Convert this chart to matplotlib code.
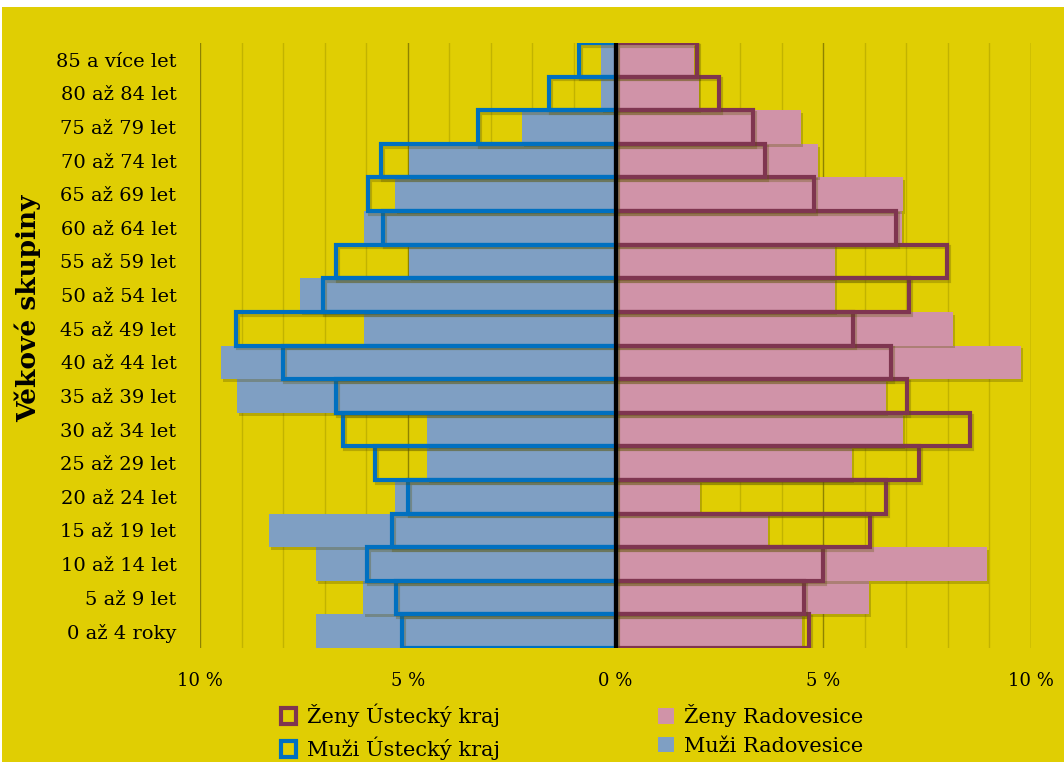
import matplotlib
matplotlib.use("Agg")
import matplotlib.pyplot as plt
import matplotlib.patheffects as pe
from matplotlib.patches import Patch, Rectangle
import numpy as np

plt.rcParams['font.family'] = ['DejaVu Serif']

# Data (young -> old)
groups = ["0 až 4 roky", "5 až 9 let", "10 až 14 let", "15 až 19 let", "20 až 24 let",
          "25 až 29 let", "30 až 34 let", "35 až 39 let", "40 až 44 let", "45 až 49 let",
          "50 až 54 let", "55 až 59 let", "60 až 64 let", "65 až 69 let", "70 až 74 let",
          "75 až 79 let", "80 až 84 let", "85 a více let"]
zeny_radovesice = [4.5, 6.1, 8.94, 3.68, 2.04, 5.7, 6.92, 6.51, 9.76, 8.13, 5.29, 5.29, 6.9, 6.92, 4.88, 4.47, 2.0, 1.9]
zeny_ustecky = [4.66, 4.54, 5.0, 6.13, 6.51, 7.31, 8.53, 7.02, 6.63, 5.72, 7.07, 7.98, 6.75, 4.78, 3.6, 3.3, 2.5, 1.97]
muzi_radovesice = [7.21, 6.08, 7.21, 8.34, 5.31, 4.54, 4.54, 9.11, 9.5, 6.06, 7.6, 4.98, 6.06, 5.31, 4.98, 2.26, 0.36, 0.36]
muzi_ustecky = [5.14, 5.29, 5.99, 5.39, 5.0, 5.79, 6.56, 6.73, 8.0, 9.13, 7.04, 6.73, 5.6, 5.96, 5.65, 3.3, 1.6, 0.89]
xticks = [-10, -5, 0, 5, 10]
xtick_labels = ["10 %", "5 %", "0 %", "5 %", "10 %"]

BG = "#E0CE03"
PINK = "#D093A8"
GREYBLUE = "#7F9FC3"
MAROON = "#7F3550"
BLUE = "#0070C0"

fig = plt.figure(figsize=(10.64, 7.62), dpi=100, facecolor=BG)
fig.patches.append(Rectangle((0, 1 - 7 / 762), 1, 7 / 762, transform=fig.transFigure,
                             facecolor="white", edgecolor="none", zorder=0))
fig.patches.append(Rectangle((0, 0), 2 / 1064, 1, transform=fig.transFigure,
                             facecolor="white", edgecolor="none", zorder=0))

ax = fig.add_axes([200 / 1064, 1 - 648 / 762, (1031 - 200) / 1064, (648 - 43) / 762])
ax.set_facecolor(BG)

y = np.arange(len(groups))

for v in range(-10, 11):
    if v == 0:
        continue
    col = "#8E8200" if v % 5 == 0 else "#C2B300"
    ax.axvline(v, color=col, lw=1.0, zorder=0.5)

shadow_fill = [pe.SimplePatchShadow(offset=(1.5, -2), alpha=0.3, shadow_rgbFace="#5a5200"), pe.Normal()]
shadow_line = [pe.SimpleLineShadow(offset=(1.5, -2), alpha=0.3, shadow_color="#5a5200"), pe.Normal()]

b1 = ax.barh(y, zeny_radovesice, height=1.0, color=PINK, edgecolor="none", zorder=2)
b2 = ax.barh(y, [-v for v in muzi_radovesice], height=1.0, color=GREYBLUE, edgecolor="none", zorder=2)
for b in list(b1) + list(b2):
    b.set_path_effects(shadow_fill)

b3 = ax.barh(y, zeny_ustecky, height=1.0, facecolor="none", edgecolor=MAROON, linewidth=3.0, zorder=3)
b4 = ax.barh(y, [-v for v in muzi_ustecky], height=1.0, facecolor="none", edgecolor=BLUE, linewidth=3.0, zorder=3)
for b in list(b3) + list(b4):
    b.set_path_effects(shadow_line)

ax.axvline(0, color="black", lw=3.0, zorder=4)

ax.set_xlim(-10, 10)
ax.set_ylim(-0.5, len(groups) - 0.5)
ax.set_yticks(y)
ax.set_yticklabels(groups, fontsize=14)
ax.set_xticks(xticks)
ax.set_xticklabels(xtick_labels, fontsize=13)
ax.tick_params(axis="both", length=0)
ax.tick_params(axis="y", pad=17)
ax.tick_params(axis="x", pad=17)
for s in ax.spines.values():
    s.set_visible(False)

fig.text(28 / 1064, 1 - 308 / 762, "Věkové skupiny", rotation=90, ha="center", va="center",
         fontsize=19, fontweight="bold")

handles = [
    Patch(facecolor=BG, edgecolor=MAROON, linewidth=3, label="Ženy Ústecký kraj"),
    Patch(facecolor=BG, edgecolor=BLUE, linewidth=3, label="Muži Ústecký kraj"),
    Patch(facecolor=PINK, edgecolor="none", label="Ženy Radovesice"),
    Patch(facecolor=GREYBLUE, edgecolor="none", label="Muži Radovesice"),
]
fig.legend(handles=handles, ncol=2, loc="center", bbox_to_anchor=(572 / 1064, 1 - 732 / 762),
           frameon=False, fontsize=15, handlelength=0.75, handleheight=0.75, handletextpad=0.5,
           columnspacing=7.6, labelspacing=0.45, borderpad=0.2)

fig.savefig("out.png", dpi=100, facecolor=BG)
